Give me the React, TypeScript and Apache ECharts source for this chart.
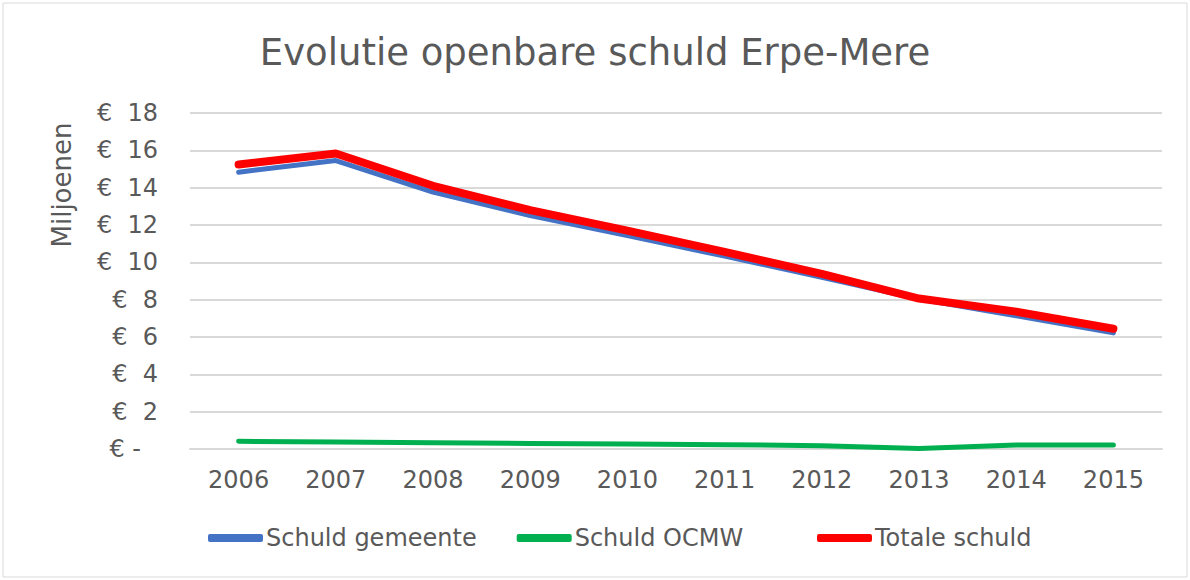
import React, { useEffect, useRef } from "react";
import * as echarts from "echarts";

const years = ["2006", "2007", "2008", "2009", "2010", "2011", "2012", "2013", "2014", "2015"];
const schuldGemeente = [14.83, 15.45, 13.76, 12.5, 11.43, 10.33, 9.2, 8.03, 7.14, 6.22];
const schuldOCMW = [0.41, 0.38, 0.34, 0.3, 0.27, 0.23, 0.18, 0.03, 0.22, 0.22];
const totaleSchuld = [15.24, 15.83, 14.1, 12.8, 11.7, 10.56, 9.38, 8.06, 7.36, 6.44];
const yTicks = [0, 2, 4, 6, 8, 10, 12, 14, 16, 18];

const FONT = "DejaVu Sans";
const GREY = "#595959";

export default function App() {
  const ref = useRef<HTMLDivElement>(null);
  useEffect(() => {
    document.body.style.margin = "0";
    const chart = echarts.init(ref.current!, null, { renderer: "svg" });
    const legendBase = {
      bottom: 25,
      itemWidth: 55,
      itemHeight: 8,
      itemGap: 40,
      icon: "roundRect",
      textStyle: { fontFamily: FONT, fontSize: 24, color: GREY, padding: [0, 0, 0, -2] },
    };
    chart.setOption({
      animation: false,
      backgroundColor: "#ffffff",
      title: {
        text: "Evolutie openbare schuld Erpe-Mere",
        left: "center",
        top: 29,
        textStyle: { fontFamily: FONT, fontSize: 37, fontWeight: "normal", color: GREY },
      },
      graphic: [
        {
          type: "rect",
          shape: { x: 3, y: 3, width: 1184, height: 574 },
          style: { fill: "none", stroke: "#d9d9d9", lineWidth: 1 },
          silent: true,
        },
        {
          type: "text",
          x: 62,
          y: 185,
          rotation: Math.PI / 2,
          style: {
            text: "Miljoenen",
            fontFamily: FONT,
            fontSize: 26,
            fill: GREY,
            align: "center",
            verticalAlign: "middle",
          },
          silent: true,
        },
      ],
      grid: { left: 190, right: 28, top: 113, bottom: 131 },
      legend: [
        { ...legendBase, left: 203, data: ["Schuld gemeente", "Schuld OCMW"] },
        { ...legendBase, left: 812, data: ["Totale schuld"] },
      ],
      xAxis: {
        type: "category",
        data: years,
        boundaryGap: true,
        axisLine: { show: true, lineStyle: { color: "#d9d9d9", width: 2 } },
        axisTick: { show: false },
        axisLabel: { fontFamily: FONT, fontSize: 24, color: GREY, margin: 19 },
      },
      yAxis: {
        type: "value",
        min: 0,
        max: 18,
        interval: 2,
        axisLine: { show: false },
        axisTick: { show: false },
        splitLine: { lineStyle: { color: "#d9d9d9", width: 2 } },
        axisLabel: {
          fontFamily: FONT,
          fontSize: 24,
          color: GREY,
          margin: 32,
          formatter: (v: number) =>
            yTicks.indexOf(v) >= 0 ? (v === 0 ? "{z|€ -}" : "€  " + v) : "",
          rich: {
            z: { fontFamily: FONT, fontSize: 24, color: GREY, padding: [0, 17, 0, 0] },
          },
        },
      },
      series: [
        {
          name: "Schuld gemeente",
          type: "line",
          data: schuldGemeente,
          showSymbol: false,
          symbol: "none",
          lineStyle: { color: "#4472c4", width: 5, cap: "round", join: "round" },
          itemStyle: { color: "#4472c4" },
        },
        {
          name: "Schuld OCMW",
          type: "line",
          data: schuldOCMW,
          showSymbol: false,
          symbol: "none",
          lineStyle: { color: "#00b050", width: 5, cap: "round", join: "round" },
          itemStyle: { color: "#00b050" },
        },
        {
          name: "Totale schuld",
          type: "line",
          data: totaleSchuld,
          showSymbol: false,
          symbol: "none",
          lineStyle: { color: "#ff0000", width: 8, cap: "round", join: "round" },
          itemStyle: { color: "#ff0000" },
        },
      ],
    });
    return () => chart.dispose();
  }, []);
  return <div ref={ref} style={{ width: 1190, height: 580 }} />;
}
